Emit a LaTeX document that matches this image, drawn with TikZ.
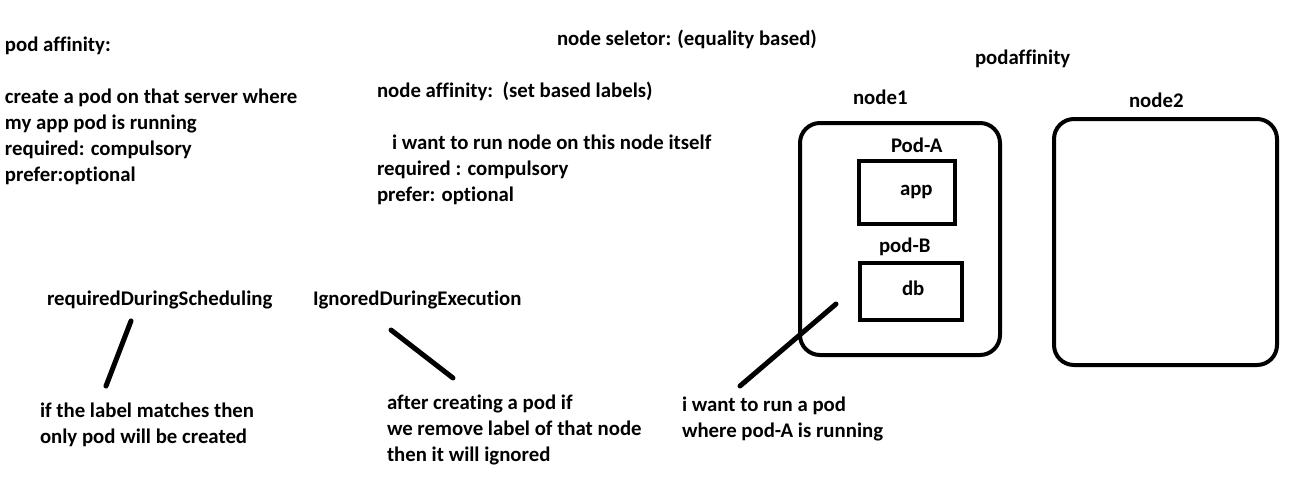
\documentclass[tikz,border=0pt]{standalone}
\usepackage{fontspec}
\setmainfont{Carlito}[Ligatures=NoCommon]
\begin{document}
\begin{tikzpicture}[x=1pt,y=-1pt,
  txt/.style={anchor=base west, inner sep=0pt, outer sep=0pt, font=\fontsize{20.8}{26}\selectfont\bfseries, align=left},
  serverbox/.style={draw, line width=4pt, rounded corners=20pt, inner sep=0pt},
  podbox/.style={draw, line width=3.5pt, inner sep=0pt},
  stroke/.style={line width=5pt, line cap=round}]
\useasboundingbox (0,0) rectangle (1295,490);
% left column (base anchor = baseline of last line)
\node[txt] (pa) at (5,51) {pod affinity:};
\node[txt] (padesc) at (5,181) {create a pod on that server where\\my app pod is running\\required: compulsory\\prefer:optional};
% middle column
\node[txt] (ns) at (557,45) {node seletor: (equality based)};
\node[txt] (na) at (377,97) {node affinity:\ \ (set based labels)};
\node[txt] (nadesc) at (377,201) {\hspace{15pt}i want to run node on this node itself\\required : compulsory\\prefer: optional};
% right diagram
\node[txt] (podaff) at (975,64) {podaffinity};
\node[txt] (n1lab) at (853,104) {node1};
\node[txt] (n2lab) at (1129,107) {node2};
\node[serverbox, minimum width=200pt, minimum height=232pt] (node1) at (900,239) {};
\node[serverbox, minimum width=223pt, minimum height=246pt] (node2) at (1165.5,242) {};
\node[txt] (palab) at (891,152) {Pod-A};
\node[podbox, minimum width=96pt, minimum height=63pt] (app) at (907,192.5) {};
\node[txt] (apptxt) at (900,195) {app};
\node[txt] (pblab) at (879,252) {pod-B};
\node[podbox, minimum width=102pt, minimum height=57pt] (db) at (911,291.5) {};
\node[txt] (dbtxt) at (902,295) {db};
% bottom texts
\node[txt] (rds) at (47,305) {requiredDuringScheduling};
\node[txt] (ide) at (313,305) {IgnoredDuringExecution};
\node[txt] (rdsdesc) at (40,443) {if the label matches then\\only pod will be created};
\node[txt] (idedesc) at (387,461) {after creating a pod if\\we remove label of that node\\then it will ignored};
\node[txt] (pdesc) at (682,437) {i want to run a pod\\where pod-A is running};
% connectors
\coordinate (r1) at (131,321);
\coordinate (r2) at (106,386);
\coordinate (i1) at (391,330);
\coordinate (i2) at (453,378);
\coordinate (p1) at (836,304);
\coordinate (p2) at (740,386);
\draw[stroke] (r1) -- (r2);
\draw[stroke] (i1) -- (i2);
\draw[stroke] (p1) -- (p2);
\end{tikzpicture}
\end{document}
